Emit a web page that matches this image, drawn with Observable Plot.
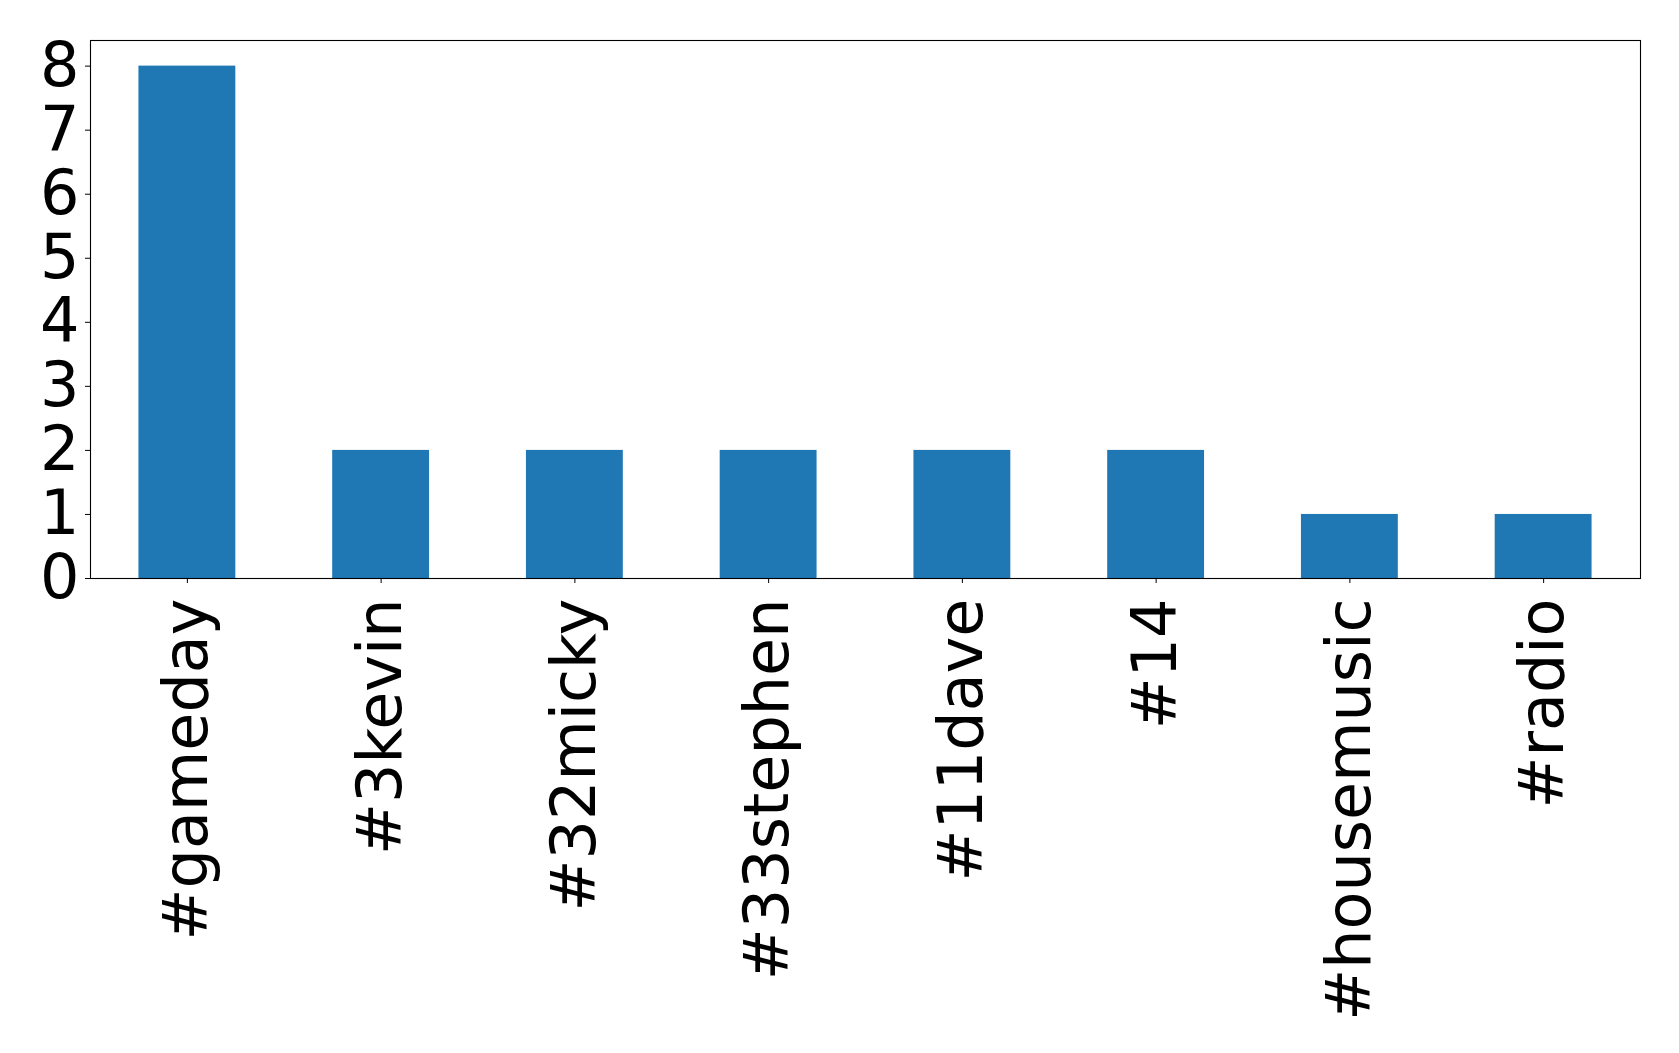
<!DOCTYPE html>
<html>
<head>
<meta charset="utf-8">
<script src="https://cdn.jsdelivr.net/npm/d3@7"></script>
<script src="https://cdn.jsdelivr.net/npm/@observablehq/plot@0.6"></script>
<style>
  html, body { margin: 0; padding: 0; background: white; }
  #chart svg { display: block; }
</style>
</head>
<body>
<div id="chart"></div>
<script>
const tags = ["#gameday", "#3kevin", "#32micky", "#33stephen", "#11dave", "#14", "#housemusic", "#radio"];
const counts = [8, 2, 2, 2, 2, 2, 1, 1];
const yTicks = [0, 1, 2, 3, 4, 5, 6, 7, 8];

const data = tags.map((t, i) => ({tag: t, count: counts[i]}));

const chart = Plot.plot({
  width: 1679,
  height: 1053,
  marginLeft: 90,
  marginRight: 39,
  marginTop: 40,
  marginBottom: 475,
  style: {fontFamily: "DejaVu Sans", fontSize: "62px", color: "black", background: "white"},
  x: {type: "band", domain: tags, paddingInner: 0.5, paddingOuter: 0.25, round: false, label: null},
  y: {domain: [0, 8.4], label: null},
  marks: [
    Plot.barY(data, {x: "tag", y: "count", fill: "#1f77b4"}),
    Plot.frame({stroke: "black", strokeWidth: 1.1}),
    Plot.axisY({ticks: yTicks, tickSize: 5, tickPadding: 6, fontSize: 62, label: null, tickFormat: d3.format("d")}),
    Plot.axisX({tickRotate: -90, tickSize: 5, tickPadding: 15, fontSize: 62, label: null})
  ]
});
document.getElementById("chart").appendChild(chart);
</script>
</body>
</html>
